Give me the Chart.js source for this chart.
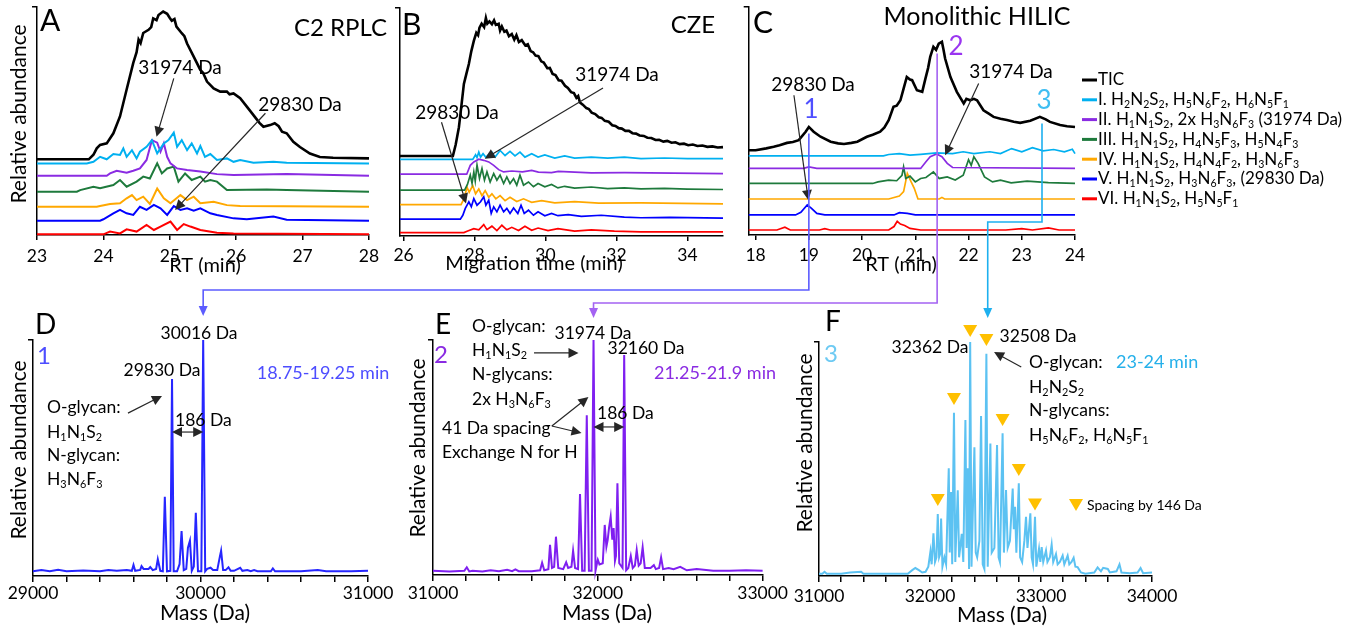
<!DOCTYPE html>
<html>
<head>
<meta charset="utf-8">
<script src="https://cdn.jsdelivr.net/npm/chart.js@4.4.1/dist/chart.umd.min.js"></script>
<style>
html, body { margin: 0; padding: 0; background: #fff; }
#page { position: relative; width: 1363px; height: 629px; overflow: hidden; }
#page canvas { position: absolute; }
</style>
</head>
<body>
<div id="page">
<canvas id="cA"></canvas>
<canvas id="cB"></canvas>
<canvas id="cC"></canvas>
<canvas id="cD"></canvas>
<canvas id="cE"></canvas>
<canvas id="cF"></canvas>
<canvas id="overlay"></canvas>
</div>
<script>
// ---- data ----
const seriesNames = [
    'TIC',
    'I. H_2N_2S_2, H_5N_6F_2, H_6N_5F_1',
    'II. H_1N_1S_2, 2x H_3N_6F_3 (31974 Da)',
    'III. H_1N_1S_2, H_4N_5F_3, H_5N_4F_3',
    'IV. H_1N_1S_2, H_4N_4F_2, H_3N_6F_3',
    'V. H_1N_1S_2, H_3N_6F_3, (29830 Da)',
    'VI. H_1N_1S_2, H_5N_5F_1'
];

const aTicks = [23, 24, 25, 26, 27, 28];
const bTicks = [26, 28, 30, 32, 34];
const cTicks = [18, 19, 20, 21, 22, 23, 24];
const dTicks = [29000, 29200, 29400, 29600, 29800, 30000, 30200, 30400, 30600, 30800, 31000];
const dLabels = [29000, 30000, 31000];
const eTicks = [31000, 31200, 31400, 31600, 31800, 32000, 32200, 32400, 32600, 32800, 33000];
const eLabels = [31000, 32000, 33000];
const fTicks = [31000, 31200, 31400, 31600, 31800, 32000, 32200, 32400, 32600, 32800, 33000,
    33200, 33400, 33600, 33800, 34000];
const fLabels = [31000, 32000, 33000, 34000];

// stacking baselines of the traces (TIC, I..VI)
const aBase = [33.2, 31.4, 26.0, 19.0, 12.4, 6.3, 0.3];
const bBase = [35.1, 33.6, 27.1, 20.1, 13.8, 7.4, 1.5];
const cBase = [37.2, 34.7, 29.2, 22.6, 15.8, 8.8, 2.2];

// A: C2 RPLC
const aTic = [[23,0],[23.78,0],[23.85,2],[23.9,4.8],[23.95,6.3],[24.05,7.0],[24.15,11.4],[24.25,18.8],[24.35,30.6],
    [24.45,42.3],[24.5,47],[24.53,52.5],[24.56,51],[24.6,55.4],[24.68,56.8],[24.72,58],[24.75,61.8],[24.8,61],
    [24.83,63.3],[24.9,64.8],[24.96,63.8],[25.0,62],[25.03,60.8],[25.07,61.5],[25.1,58.2],[25.18,55.3],[25.22,54],
    [25.26,50.8],[25.36,45.0],[25.46,39.2],[25.5,38],[25.56,34.1],[25.66,31.1],[25.76,29.7],[25.86,29.7],[25.9,28.5],
    [25.96,28.9],[26.06,26.8],[26.16,23.1],[26.26,19.4],[26.35,16],[26.41,14.3],[26.51,15.0],[26.58,15.8],[26.64,14.5],
    [26.69,12.1],[26.76,11.4],[26.86,7.7],[26.96,5.4],[27.11,2.5],[27.26,1.0],[27.46,0.7],[28,0.4]];
const aI = [[23,0],[23.75,0],[23.85,0.7],[23.95,2.9],[24.05,1.8],[24.15,4.1],[24.25,3.7],[24.3,6.6],[24.35,2.9],
    [24.43,5.8],[24.5,2.2],[24.55,5.1],[24.65,7.3],[24.73,10.2],[24.81,4.4],[24.91,8.8],[24.98,10.2],[25.06,13.5],
    [25.11,7.3],[25.18,10.2],[25.26,5.8],[25.33,8.8],[25.41,4.4],[25.46,7.6],[25.53,2.9],[25.61,4.1],[25.71,1.5],
    [25.86,2.2],[25.96,0.7],[26.06,1.5],[26.26,0.3],[26.56,0.7],[26.76,0.3],[28,0]];
const aII = [[23,0],[24.05,0],[24.1,1.0],[24.2,2.2],[24.35,1.3],[24.45,2.2],[24.55,3.2],[24.65,6.9],[24.73,15.6],
    [24.81,14.5],[24.86,10.5],[24.91,14.2],[24.96,8.3],[25.01,5.4],[25.11,3.2],[25.26,2.5],[25.46,1.8],[25.71,0.7],
    [25.96,0.3],[26.76,0.7],[28,0]];
const aIII = [[23,0],[23.6,0],[23.65,0.7],[23.85,2.2],[23.95,1.5],[24.15,2.9],[24.25,5.1],[24.35,2.2],[24.5,4.4],
    [24.6,6.6],[24.7,5.8],[24.81,12.4],[24.88,8.0],[24.96,10.2],[25.06,11.0],[25.13,4.4],[25.23,8.0],[25.33,5.1],
    [25.46,6.6],[25.53,4.4],[25.61,5.1],[25.71,4.4],[25.86,0.7],[26.46,1.0],[26.76,0.7],[28,0]];
const aIV = [[23,0],[23.9,0],[23.95,0.3],[24.1,1.2],[24.25,1.5],[24.35,3.7],[24.43,5.1],[24.5,2.9],[24.6,4.4],
    [24.7,1.2],[24.81,8.0],[24.91,3.7],[25.01,1.5],[25.16,5.1],[25.26,2.9],[25.36,4.4],[25.46,1.5],[25.66,2.2],
    [25.86,0.7],[26.06,0.3],[28,0]];
const aV = [[23,0],[23.95,0],[24.0,0.6],[24.15,3.2],[24.25,4.7],[24.35,3.2],[24.45,2.5],[24.55,6.1],[24.65,4.7],
    [24.76,6.9],[24.86,5.4],[24.96,2.5],[25.06,6.4],[25.16,4.7],[25.26,5.4],[25.36,4.4],[25.46,5.4],[25.61,3.2],
    [25.71,2.5],[25.96,1.0],[26.16,0.6],[26.56,1.8],[26.76,0.4],[28,0]];
const aVI = [[23,0],[24.0,0],[24.1,1.2],[24.25,0.4],[24.35,2.2],[24.5,1.2],[24.65,4.1],[24.76,1.9],[24.86,3.4],
    [25.01,5.6],[25.11,1.9],[25.21,4.5],[25.31,3.4],[25.46,1.9],[25.71,0.7],[25.96,0.4],[28,0]];

// B: CZE
const bTic = [[25.9,0],[27.39,0],[27.47,5],[27.56,12.6],[27.63,22],[27.7,31.6],[27.77,36],[27.84,40.3],[27.91,46],
    [27.98,50.5],[28.05,54],[28.1,53],[28.14,56.3],[28.2,58],[28.27,56.5],[28.32,60.5],[28.36,58],[28.42,59],[28.49,57.8],
    [28.55,59.5],[28.6,57.5],[28.68,58],[28.72,55],[28.77,56.8],[28.84,54.5],[28.9,55],[28.97,52.5],[29.05,53.5],
    [29.12,51],[29.18,53],[29.25,50],[29.33,50.8],[29.43,48.5],[29.5,49],[29.58,46],[29.65,45.5],[29.72,44],[29.8,43.8],
    [29.88,41.5],[29.95,41],[30.05,38.5],[30.12,38.6],[30.2,36],[30.28,35.5],[30.37,33.2],[30.45,33],[30.55,30.8],
    [30.63,29.8],[30.72,28],[30.8,27.6],[30.87,25.5],[30.92,26.3],[30.97,23.5],[31.05,22.5],[31.15,21],[31.22,20.6],
    [31.3,19],[31.4,18.4],[31.5,17],[31.58,16.7],[31.67,15.4],[31.78,15],[31.88,13.5],[31.97,13.2],[32.06,12.2],
    [32.15,12],[32.25,11],[32.35,11],[32.45,10],[32.55,9.8],[32.65,9],[32.77,8.8],[32.87,8],[32.98,7.9],[33.1,7],
    [33.2,7.1],[33.32,6.3],[33.43,6.6],[33.55,5.8],[33.66,6],[33.78,5.2],[33.9,5.4],[34.02,4.7],[34.15,5.0],[34.28,4.4],
    [34.42,4.6],[34.56,4.0],[34.7,4.2],[34.85,3.7],[35,3.9]];
const bI = [[25.9,0],[27.95,0],[28.03,2.0],[28.07,0.8],[28.12,3.2],[28.17,1.0],[28.24,2.5],[28.32,0.9],[28.4,2.2],
    [28.49,3.2],[28.58,1.0],[28.72,3.9],[28.86,1.7],[29.0,3.5],[29.14,1.5],[29.28,3.2],[29.42,1.0],[29.61,2.5],
    [29.79,1.0],[29.98,2.0],[30.26,0.6],[30.54,1.5],[30.82,0.6],[31.29,1.0],[31.75,0.6],[32.22,1.0],[32.69,0.3],
    [33.35,0.6],[34,0.3],[35,0.3]];
const bII = [[25.9,0],[27.78,0],[27.88,3.9],[27.98,5.4],[28.12,6.6],[28.26,6.1],[28.4,5.4],[28.54,3.9],[28.68,2.0],
    [28.82,1.0],[29.05,1.4],[29.35,1.0],[29.61,1.7],[29.8,0.9],[30.17,0.7],[30.36,1.2],[31.29,0.6],[32.23,0.7],[35,0.3]];
const bIII = [[25.9,0],[27.72,0],[27.8,2.5],[27.88,6.6],[27.93,3],[27.98,8.0],[28.02,4],[28.07,11],[28.14,5.1],
    [28.21,9.5],[28.28,4.4],[28.35,8],[28.44,3.6],[28.54,7.3],[28.63,4.4],[28.72,6.6],[28.82,2.9],[28.91,5.8],[29.0,2.9],
    [29.1,5.1],[29.19,2.2],[29.28,6.6],[29.38,2.2],[29.52,3.6],[29.66,1.5],[29.79,2.9],[29.98,1.5],[30.17,2.5],
    [30.35,1.0],[30.54,1.7],[30.82,0.9],[31.29,1.4],[31.75,0.7],[32.22,1.0],[32.69,0.6],[33.35,0.8],[34,0.5],[35,0.3]];
const bIV = [[25.9,0],[27.62,0],[27.7,2.5],[27.79,7.6],[27.85,5.4],[27.95,8.3],[28.03,4.7],[28.12,6.8],[28.21,3.9],
    [28.3,6.1],[28.4,3.2],[28.49,4.7],[28.6,2.5],[28.72,3.9],[28.86,1.7],[29.0,3.2],[29.19,1.3],[29.38,2.5],[29.61,1.0],
    [29.89,1.7],[30.26,0.7],[30.82,1.3],[31.5,0.6],[32.69,0.7],[35,0.3]];
const bV = [[25.9,0],[27.6,0],[27.67,1.7],[27.74,4.7],[27.84,7.6],[27.91,5.4],[27.98,9.0],[28.07,6.1],[28.17,7.6],
    [28.26,9.8],[28.32,6.1],[28.4,8.3],[28.47,2.5],[28.54,5.4],[28.63,3.2],[28.72,6.1],[28.82,3.2],[28.91,4.7],
    [29.0,2.5],[29.1,4.9],[29.22,2.5],[29.31,6.1],[29.4,2.5],[29.52,3.9],[29.66,1.7],[29.79,3.2],[29.98,1.5],[30.17,2.5],
    [30.35,1.5],[30.64,2.0],[31.01,1.2],[31.57,1.7],[32.22,0.9],[32.69,0.6],[33.5,0.8],[35,0.4]];
const bVI = [[25.9,0],[27.7,0],[27.79,0.6],[27.98,1.7],[28.12,1.2],[28.26,3.5],[28.35,1.3],[28.49,2.8],[28.63,0.9],
    [28.77,3.2],[28.91,1.2],[29.05,2.3],[29.24,0.9],[29.42,2.8],[29.61,1.0],[29.79,2.0],[30.07,0.9],[30.35,1.7],
    [30.82,0.6],[31.29,1.2],[31.94,0.6],[32.69,0.3],[35,0.3]];

// C: Monolithic HILIC
const cTic = [[17.87,0],[18,0],[18.2,0.8],[18.34,1.5],[18.45,2.2],[18.59,3.2],[18.7,3.6],[18.81,4.4],[18.94,8.1],
    [19.0,10.2],[19.09,8.1],[19.22,5.9],[19.41,3.7],[19.55,3.0],[19.66,2.7],[19.8,3.2],[19.91,3.7],[20.09,5.9],
    [20.2,6.8],[20.34,8.1],[20.42,10],[20.5,13.2],[20.59,19.0],[20.65,19.5],[20.72,21.9],[20.78,27.0],[20.84,32.1],
    [20.9,31],[20.94,30.7],[21.03,26.3],[21.13,25.6],[21.19,31.4],[21.24,36],[21.28,40.9],[21.34,45.3],[21.39,44],
    [21.44,46.7],[21.5,47.5],[21.53,44],[21.56,40.2],[21.66,32.1],[21.78,25.6],[21.91,20.5],[21.96,22.5],[22.03,21.9],
    [22.1,22.5],[22.16,21.9],[22.28,17.5],[22.38,16],[22.47,14.6],[22.6,13.8],[22.72,13.2],[22.85,12.5],[22.97,12.0],
    [23.16,12.9],[23.34,14.6],[23.45,13.5],[23.53,12.4],[23.72,11.0],[23.85,10.5],[24,10.2]];
const cI = [[17.87,0],[20.4,0],[20.5,0.6],[20.7,1.0],[20.9,0.3],[21.1,0.7],[21.4,1.3],[21.7,1.0],[21.9,1.8],[22.1,1.0],
    [22.4,1.8],[22.6,1.0],[22.81,3.2],[23.0,1.8],[23.2,3.6],[23.4,2.2],[23.6,2.8],[23.8,1.8],[23.95,2.9],[24,1.0]];
const cII = [[17.87,0],[18.9,0],[19.0,0.7],[19.15,0],[21.1,0],[21.2,2.9],[21.28,5.1],[21.4,6.3],[21.5,5.1],[21.6,2.2],
    [21.7,0.4],[24,0]];
const cIII = [[17.87,0],[20.2,0],[20.3,0.7],[20.5,1.5],[20.65,1.2],[20.75,3.6],[20.78,7.3],[20.82,2.2],[20.9,3.2],
    [21.0,0.7],[21.1,2.2],[21.2,2.6],[21.34,5.1],[21.45,2.2],[21.6,2.9],[21.75,1.5],[21.9,3.6],[22.0,10.4],[22.05,7.9],
    [22.1,11.7],[22.18,8.8],[22.3,2.9],[22.45,0.7],[22.6,1.5],[22.8,0.3],[23.1,1.0],[23.5,0.4],[24,0]];
const cIV = [[17.87,0],[20.5,0],[20.7,1.3],[20.78,3.2],[20.85,11.2],[20.92,7.6],[20.98,4.7],[21.05,0],[21.45,0],
    [21.5,0.7],[21.55,0],[24,0]];
const cV = [[17.87,0],[18.75,0],[18.85,1.2],[18.97,4.4],[19.05,2.9],[19.15,0.7],[19.3,0],[20.6,0],[20.7,1.0],
    [20.85,0.7],[21.0,0],[24,0]];
const cVI = [[17.87,0],[18.4,0],[18.55,1.2],[18.65,0],[19.2,0],[19.3,0.6],[19.4,0],[20.5,0],[20.6,1.5],[20.66,3.8],
    [20.72,2.6],[20.8,2.0],[20.9,0.7],[21.1,0],[22.7,0],[23.0,0.6],[23.2,0],[23.5,0.9],[23.7,0],[24,0]];

// D: spectrum 18.75-19.25 min
const dSpec = [[29000,2],[29050,2.5],[29100,2],[29150,2.6],[29200,2],[29300,2.3],[29400,2],[29450,2.5],[29500,2.2],
    [29560,2.5],[29590,2.2],[29600,4.7],[29610,2.2],[29640,2.6],[29648,4.2],[29660,3],[29690,3],[29700,3.8],[29715,2.5],
    [29735,3],[29745,7.1],[29760,2.2],[29775,2.0],[29787,33.6],[29800,2.0],[29820,2.2],[29830,83.5],[29840,2.0],
    [29860,2.0],[29875,5],[29887,19],[29900,2.5],[29915,3],[29925,12],[29937,15],[29948,2.2],[29960,4],[29972,26.8],
    [29985,2.0],[30005,2.0],[30016,100],[30028,2.0],[30040,3],[30060,3.5],[30075,2.5],[30100,2.5],[30115,8],
    [30123,10.7],[30135,2.5],[30150,2.5],[30167,3.7],[30180,2.2],[30200,2.2],[30237,3.5],[30250,2.2],[30280,2.5],
    [30300,2],[30320,2.5],[30340,2],[30420,2],[30432,3.2],[30445,2],[30600,2],[30700,2.5],[30750,2],[30900,2],[31000,2.2]];

// E: spectrum 21.25-21.9 min
const eSpec = [[31000,1.8],[31100,1.5],[31190,1.8],[31205,3.3],[31220,1.5],[31240,1.8],[31300,1.5],[31350,2.0],
    [31400,1.6],[31450,2.2],[31480,1.6],[31500,2.4],[31520,1.6],[31600,1.6],[31650,2],[31662,5.2],[31675,2],[31700,2.5],
    [31710,12.8],[31722,3],[31735,3.5],[31746,16.3],[31760,3],[31790,2.5],[31808,5.4],[31820,3],[31840,3.5],[31850,10.3],
    [31862,3],[31880,2.5],[31892,34.5],[31905,1.8],[31920,1.8],[31933,68],[31946,1.8],[31962,1.8],[31974,100],
    [31986,1.8],[31995,5],[32000,6.5],[32010,4.5],[32030,5],[32042,21.3],[32052,12],[32060,15],[32068,20],[32078,24.8],
    [32088,15],[32096,20],[32104,6],[32110,8],[32119,39],[32130,5],[32150,3],[32160,93.6],[32172,2],[32185,3],
    [32200,8.1],[32212,3],[32225,4],[32236,10.6],[32248,4],[32260,5],[32272,11.8],[32285,3],[32320,3],[32340,4.2],
    [32352,2.5],[32372,3],[32384,7.5],[32396,2.5],[32430,3],[32460,2.5],[32500,3.5],[32540,2],[32600,2.5],[32700,1.8],
    [32800,1.8],[32900,2],[33000,1.8]];

// F: spectrum 23-24 min
const fSpec = [[31000,1],[31030,1],[31050,1.8],[31070,1],[31200,1],[31280,1.5],[31380,1.8],[31400,1],[31600,1],
    [31700,1],[31800,1],[31840,2.5],[31868,3.4],[31900,2.5],[31930,1.5],[31960,1.8],[31985,4],[32004,10.5],[32015,5],
    [32031,18.2],[32045,6],[32058,8],[32070,26.5],[32082,8],[32095,10],[32100,24.6],[32112,4],[32130,8],[32145,5],
    [32169,46],[32178,10],[32190,35.9],[32200,5],[32216,69.8],[32228,6],[32250,36.6],[32262,8],[32286,18],[32300,6],
    [32319,66.7],[32330,12],[32340,46],[32352,3],[32362,100],[32374,4],[32400,55],[32412,10],[32425,8],[32445,15],
    [32460,68.4],[32475,5],[32490,3],[32508,95],[32520,4],[32544,56.6],[32556,10],[32580,12],[32604,56],[32618,8],
    [32630,6],[32654,61],[32666,10],[32685,36.7],[32700,12],[32720,15],[32745,37.4],[32755,20],[32766,29.6],
    [32778,10],[32800,39.6],[32812,8],[32830,6],[32850,15],[32865,25.3],[32878,12],[32904,26.8],[32916,8],[32928,5],
    [32946,25.3],[32958,4],[32982,11.7],[32994,6],[33006,12.4],[33020,6],[33045,10.9],[33058,6],[33080,8],[33096,13.4],
    [33110,6],[33135,9.4],[33150,5],[33170,6],[33195,8.7],[33210,5],[33240,8.7],[33255,5],[33275,6],[33294,7.8],
    [33310,4],[33330,3.8],[33360,1.5],[33400,1],[33480,1.5],[33510,3.7],[33540,2],[33560,3.5],[33602,3],[33620,1.5],
    [33680,2],[33707,5],[33725,1.5],[33800,1.2],[33870,1.5],[33897,3.4],[33920,1.2],[34000,1.5]];
// 146 Da ladder markers in F
const fTriMass = [32070, 32216, 32362, 32508, 32654, 32800, 32946];
const fTriY = [32.5, 75.6, 104.7, 100.9, 66.7, 45.3, 30.6];

// retention windows picked in C and the spectra they feed
const pickRT = [19.0, 21.41, 23.38];
const pickMass = [30016, 31974, 32520];

// ---- drawing helpers ----
Chart.defaults.font.family = 'Lato, "Open Sans", sans-serif';
Chart.defaults.color = '#000';
const FONT = 'Lato, "Open Sans", sans-serif';
const traceColors = ['#000000', '#00b0f0', '#8a2be2', '#1e7a3c', '#ffa800', '#0000ff', '#ff0000'];

function runsOf(str) {
    const runs = [];
    let i = 0;
    while (i < str.length) {
        let j;
        if (str[i] === '_') {
            j = i + 1;
            while (j < str.length && /[0-9]/.test(str[j])) j++;
            runs.push({t: str.slice(i + 1, j), sub: true});
        } else {
            j = i;
            while (j < str.length && str[j] !== '_') j++;
            runs.push({t: str.slice(i, j), sub: false});
        }
        i = j;
    }
    return runs;
}

function drawRich(ctx, str, x, y, size, color, align, rot) {
    const runs = runsOf(str);
    const fMain = size + 'px ' + FONT, fSub = (size * 0.62) + 'px ' + FONT;
    let w = 0;
    runs.forEach(r => { ctx.font = r.sub ? fSub : fMain; r.w = ctx.measureText(r.t).width; w += r.w; });
    ctx.save();
    ctx.translate(x, y);
    if (rot) ctx.rotate(rot * Math.PI / 180);
    let cx = align === 'center' ? -w / 2 : align === 'right' ? -w : 0;
    ctx.fillStyle = color;
    ctx.textBaseline = 'middle';
    ctx.textAlign = 'left';
    runs.forEach(r => {
        ctx.font = r.sub ? fSub : fMain;
        ctx.fillText(r.t, cx, r.sub ? size * 0.3 : 0);
        cx += r.w;
    });
    ctx.restore();
}

function head(ctx, x1, y1, x2, y2, len, hw) {
    const a = Math.atan2(y2 - y1, x2 - x1);
    ctx.beginPath();
    ctx.moveTo(x2, y2);
    ctx.lineTo(x2 - len * Math.cos(a) + hw * Math.sin(a), y2 - len * Math.sin(a) - hw * Math.cos(a));
    ctx.lineTo(x2 - len * Math.cos(a) - hw * Math.sin(a), y2 - len * Math.sin(a) + hw * Math.cos(a));
    ctx.closePath();
    ctx.fill();
}

function drawArrow(ctx, x1, y1, x2, y2, color, both) {
    const a = Math.atan2(y2 - y1, x2 - x1), len = 10;
    ctx.strokeStyle = color;
    ctx.fillStyle = color;
    ctx.lineWidth = 1.2;
    ctx.beginPath();
    ctx.moveTo(both ? x1 + len * 0.8 * Math.cos(a) : x1, both ? y1 + len * 0.8 * Math.sin(a) : y1);
    ctx.lineTo(x2 - len * 0.8 * Math.cos(a), y2 - len * 0.8 * Math.sin(a));
    ctx.stroke();
    head(ctx, x1, y1, x2, y2, len, 5);
    if (both) head(ctx, x2, y2, x1, y1, len, 5);
}

function tri(ctx, cx, cy, hw, h) {
    ctx.beginPath();
    ctx.moveTo(cx - hw, cy - h / 2);
    ctx.lineTo(cx + hw, cy - h / 2);
    ctx.lineTo(cx, cy + h / 2);
    ctx.closePath();
    ctx.fill();
}

function annotPlugin(box, labels, arrows, extra) {
    return {
        id: 'annot',
        afterDraw(chart) {
            const ctx = chart.ctx, sx = chart.scales.x, sy = chart.scales.y;
            ctx.save();
            if (extra) extra(chart, ctx);
            arrows.forEach(a => drawArrow(ctx, sx.getPixelForValue(a[0]), sy.getPixelForValue(a[1]),
                sx.getPixelForValue(a[2]), sy.getPixelForValue(a[3]), '#262626', a[4]));
            labels.forEach(l => drawRich(ctx, l[0], l[1] - box[0], l[2] - box[1], l[3], l[4] || '#000',
                l[5] || 'left', l[6] || 0));
            ctx.restore();
        }
    };
}

function xScale(min, max, ticks, labels, tickLen, pad, xH) {
    return {
        type: 'linear', min: min, max: max,
        afterBuildTicks: s => { s.ticks = ticks.map(v => ({value: v})); },
        afterFit: s => { s.height = xH; },
        border: {display: true, color: '#000', width: 1.5},
        grid: {display: true, drawOnChartArea: false, drawTicks: true, tickLength: tickLen, color: '#000', lineWidth: 1.5},
        ticks: {autoSkip: false, maxRotation: 0, minRotation: 0, padding: pad, color: '#000', font: {size: 17.5},
            callback: v => labels.includes(v) ? String(v) : ''}
    };
}

function yScale(yW) {
    return {
        type: 'linear', min: 0, max: 100,
        afterBuildTicks: s => { s.ticks = [{value: 100}]; },
        afterFit: s => { s.width = yW; },
        border: {display: true, color: '#000', width: 1.5},
        grid: {display: true, drawOnChartArea: false, drawTicks: true, tickLength: 5, color: '#000', lineWidth: 1.5},
        ticks: {display: false}
    };
}

function panel(id, box, area, xH, x, datasets, labels, arrows, extra) {
    const cv = document.getElementById(id);
    cv.width = box[2];
    cv.height = box[3];
    cv.style.left = box[0] + 'px';
    cv.style.top = box[1] + 'px';
    return new Chart(cv, {
        type: 'line',
        data: {datasets: datasets},
        options: {
            responsive: false,
            animation: false,
            devicePixelRatio: 1,
            events: [],
            layout: {padding: {left: 0, top: area[1] - box[1], right: box[0] + box[2] - area[2],
                bottom: box[1] + box[3] - area[3] - xH}},
            plugins: {legend: {display: false}, tooltip: {enabled: false}},
            scales: {x: x, y: yScale(area[0] - box[0])}
        },
        plugins: [annotPlugin(box, labels, arrows, extra)]
    });
}

function traceSets(traces, base, lw) {
    return traces.map((t, i) => ({
        label: seriesNames[i],
        data: t.map(p => ({x: p[0], y: p[1] + base[i]})),
        borderColor: traceColors[i],
        borderWidth: i === 0 ? 2.6 : lw,
        pointRadius: 0, tension: 0, fill: false, clip: false
    }));
}

function specSet(spec, color) {
    return [{
        label: 'spectrum',
        data: spec.map(p => ({x: p[0], y: p[1]})),
        borderColor: color, borderWidth: 2, pointRadius: 0, tension: 0, fill: false, clip: false
    }];
}

// ---- layout ----
const boxA = [0, 0, 393, 282], areaA = [37, 7, 369, 235];
const boxB = [389, 0, 356, 282], areaB = [397, 8, 723, 236];
const boxC = [740, 0, 623, 282], areaC = [748, 7, 1075, 235];
const boxD = [0, 292, 400, 337], areaD = [33, 340, 368, 576];
const boxE = [395, 292, 395, 337], areaE = [433, 340, 766, 575];
const boxF = [785, 292, 578, 337], areaF = [819, 342, 1152, 576];

const chartA = panel('cA', boxA, areaA, 44, xScale(23, 28, aTicks, aTicks, 5, 5.5, 44),
    traceSets([aTic, aI, aII, aIII, aIV, aV, aVI], aBase, 2),
    [['A', 40, 21, 30], ['C2 RPLC', 387, 28, 24, '#000', 'right'],
     ['31974 Da', 180, 68, 19, '#000', 'center'], ['29830 Da', 300, 105, 19, '#000', 'center'],
     ['Relative abundance', 19.5, 114, 21, '#000', 'center', -90], ['RT (min)', 205, 266, 20, '#000', 'center']],
    [[25.06, 68.7, 24.8, 43.1], [26.44, 53.4, 25.08, 11.0]]);

const chartB = panel('cB', boxB, areaB, 44, xScale(25.9, 35, bTicks, bTicks, 5, 4.3, 44),
    traceSets([bTic, bI, bII, bIII, bIV, bV, bVI], bBase, 1.7),
    [['B', 402, 25, 30], ['CZE', 715, 25, 24, '#000', 'right'],
     ['31974 Da', 617, 75, 19, '#000', 'center'], ['29830 Da', 457, 113, 19, '#000', 'center'],
     ['Migration time (min)', 534, 264, 20, '#000', 'center']],
    [[31.62, 64.9, 28.29, 33.9], [27.07, 49.9, 27.76, 14.3]]);

function cLegend(chart, ctx) {
    chart.data.datasets.forEach((ds, i) => {
        const y = 80 + i * 19.8 - boxC[1], x = 1082 - boxC[0];
        ctx.strokeStyle = ds.borderColor;
        ctx.lineWidth = 3;
        ctx.beginPath();
        ctx.moveTo(x, y);
        ctx.lineTo(x + 15, y);
        ctx.stroke();
        drawRich(ctx, ds.label, x + 16, y, 17, '#000', 'left', 0);
    });
}

const chartC = panel('cC', boxC, areaC, 44, xScale(17.87, 24, cTicks, cTicks, 5, 5.3, 44),
    traceSets([cTic, cI, cII, cIII, cIV, cV, cVI], cBase, 1.7),
    [['C', 753, 23, 30], ['Monolithic HILIC', 977, 17, 25, '#000', 'center'],
     ['29830 Da', 813, 85, 19, '#000', 'center'], ['31974 Da', 1011, 72, 19, '#000', 'center'],
     ['1', 811, 110, 26, '#4f4fff', 'center'], ['2', 956, 47, 26, '#9a35f0', 'center'],
     ['3', 1044, 101, 26, '#3fbef2', 'center'], ['RT (min)', 901, 265, 20, '#000', 'center']],
    [[18.72, 61.3, 18.99, 15.3], [22.19, 66.4, 21.56, 35.0]], cLegend);

const chartD = panel('cD', boxD, areaD, 50, xScale(29000, 31000, dTicks, dLabels, 6, 1, 50),
    specSet(dSpec, '#2626ff'),
    [['D', 35, 325, 28], ['1', 44, 356, 24, '#4d4dff', 'center'],
     ['30016 Da', 199, 333, 17.5, '#000', 'center'], ['29830 Da', 162, 370, 17.5, '#000', 'center'],
     ['18.75-19.25 min', 323, 373, 18, '#4d4dff', 'center'],
     ['O-glycan:', 47, 407, 17.5], ['H_1N_1S_2', 47, 432, 17.5], ['N-glycan:', 47, 455, 17.5],
     ['H_3N_6F_3', 47, 479, 17.5], ['186 Da', 175, 420, 17.5],
     ['Relative abundance', 19, 450, 21, '#000', 'center', -90], ['Mass (Da)', 205, 613, 21, '#000', 'center']],
    [[29567, 69, 29770, 76.3], [29830, 61, 30016, 61, true]]);

const chartE = panel('cE', boxE, areaE, 50, xScale(31000, 33000, eTicks, eLabels, 6, 2, 50),
    specSet(eSpec, '#7f1ff0'),
    [['E', 435, 325, 28], ['2', 441, 355, 24, '#8a2be2', 'center'],
     ['O-glycan:', 472, 326, 17.5], ['H_1N_1S_2', 472, 350, 17.5], ['N-glycans:', 472, 374, 17.5],
     ['2x H_3N_6F_3', 472, 399, 17.5], ['41 Da spacing', 442, 428, 17.5], ['Exchange N for H', 442, 452, 17.5],
     ['31974 Da', 593, 333, 17.5, '#000', 'center'], ['32160 Da', 646, 348, 17.5, '#000', 'center'],
     ['21.25-21.9 min', 715, 373, 18, '#8a2be2', 'center'], ['186 Da', 597, 413, 17.5],
     ['Relative abundance', 418, 448, 21, '#000', 'center', -90], ['Mass (Da)', 607, 613, 21, '#000', 'center']],
    [[31613, 94.5, 31883, 94.5], [31721, 63.4, 31943, 75.7], [31721, 63.4, 31901, 60.4],
     [31974, 63, 32160, 63, true]]);

function fMarkers(chart, ctx) {
    const sx = chart.scales.x, sy = chart.scales.y;
    ctx.fillStyle = '#ffc000';
    fTriMass.forEach((m, i) => tri(ctx, sx.getPixelForValue(m), sy.getPixelForValue(fTriY[i]), 7, 12));
    tri(ctx, 1076 - boxF[0], 505 - boxF[1], 7, 12);
}

const chartF = panel('cF', boxF, areaF, 51, xScale(31000, 34000, fTicks, fLabels, 6, 3.5, 51),
    specSet(fSpec, '#5cc2f2'),
    [['F', 825, 322, 28], ['3', 831, 354, 24, '#6dcaf3', 'center'],
     ['32362 Da', 930, 347, 17.5, '#000', 'center'], ['32508 Da', 1038, 336, 17.5, '#000', 'center'],
     ['O-glycan:', 1029, 362, 17.5], ['23-24 min', 1116, 362, 18, '#25b0ea'],
     ['H_2N_2S_2', 1029, 387, 17.5], ['N-glycans:', 1029, 410, 17.5], ['H_5N_6F_2, H_6N_5F_1', 1029, 435, 17.5],
     ['Spacing by 146 Da', 1087, 505, 14],
     ['Relative abundance', 805, 443, 21, '#000', 'center', -90], ['Mass (Da)', 1002, 615, 21, '#000', 'center']],
    [[32822, 89.3, 32577, 95.7]], fMarkers);

// ---- connectors from the picked windows in C to the spectra ----
(function () {
    const cv = document.getElementById('overlay');
    cv.width = 1363;
    cv.height = 629;
    cv.style.left = '0px';
    cv.style.top = '0px';
    const ctx = cv.getContext('2d');
    const links = [
        {color: '#5c5cff', top: 44.5, elbow: 290, end: 316, chart: chartD, box: boxD},
        {color: '#a463f2', top: 79.6, elbow: 303, end: 318, chart: chartE, box: boxE},
        {color: '#1eb0ef', top: 48.9, elbow: 222, end: 318, chart: chartF, box: boxF}
    ];
    links.forEach((l, i) => {
        const x0 = chartC.scales.x.getPixelForValue(pickRT[i]) + boxC[0];
        const y0 = chartC.scales.y.getPixelForValue(l.top) + boxC[1];
        const x1 = l.chart.scales.x.getPixelForValue(pickMass[i]) + l.box[0];
        ctx.strokeStyle = l.color;
        ctx.fillStyle = l.color;
        ctx.lineWidth = 1.6;
        ctx.beginPath();
        ctx.moveTo(x0, y0);
        ctx.lineTo(x0, l.elbow);
        ctx.lineTo(x1, l.elbow);
        ctx.lineTo(x1, l.end - 8);
        ctx.stroke();
        head(ctx, x1, l.elbow, x1, l.end, 10, 4.5);
    });
})();
</script>
</body>
</html>
